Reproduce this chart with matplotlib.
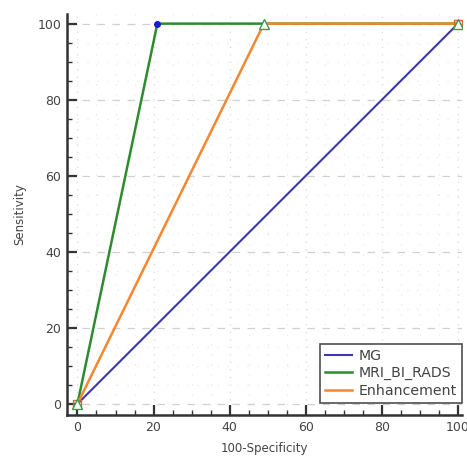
import matplotlib
matplotlib.use("Agg")
import matplotlib.pyplot as plt
from matplotlib.ticker import MultipleLocator

mg_x = [0, 100]
mg_y = [0, 100]
mri_x = [0, 21, 100]
mri_y = [0, 100, 100]
enh_x = [0, 49, 100]
enh_y = [0, 100, 100]
series_names = ["MG", "MRI_BI_RADS", "Enhancement"]

fig = plt.figure(figsize=(4.67, 4.58), dpi=100)
ax = fig.add_axes([0.143, 0.094, 0.846, 0.876])

c_mg = "#3a37b0"
c_mri = "#2e8b2e"
c_enh = "#f4872f"

ax.plot(mg_x, mg_y, color=c_mg, lw=1.5, label=series_names[0], zorder=3)
ax.plot(mri_x, mri_y, color=c_mri, lw=1.8, label=series_names[1], zorder=4)
ax.plot(enh_x, enh_y, color=c_enh, lw=1.8, label=series_names[2], zorder=5)

# markers
ax.plot([mri_x[1]], [mri_y[1]], 'o', color="#1a1ad0", ms=4, zorder=6)
ax.plot([enh_x[1]], [enh_y[1]], '^', mfc="white", mec="#3a9a4a", ms=7, mew=1, zorder=6)
ax.plot([0, 100], [0, 100], 's', mfc="none", mec="#e06030", ms=6, mew=1, zorder=6)
ax.plot([0, 100], [0, 100], '^', mfc="white", mec="#3a9a4a", ms=7, mew=1, zorder=7)

ax.set_xlim(-2.8, 101)
ax.set_ylim(-2.9, 102.6)
ax.xaxis.set_major_locator(MultipleLocator(20))
ax.yaxis.set_major_locator(MultipleLocator(20))
ax.xaxis.set_minor_locator(MultipleLocator(5))
ax.yaxis.set_minor_locator(MultipleLocator(5))

for s in ["top", "right"]:
    ax.spines[s].set_visible(False)
for s in ["left", "bottom"]:
    ax.spines[s].set_linewidth(1.8)
    ax.spines[s].set_color("#333333")

ax.tick_params(which="major", direction="in", length=7, width=1.6, color="#333333",
               labelsize=9, labelcolor="#444444", pad=4)
ax.tick_params(which="minor", direction="in", length=3.5, width=1.0, color="#333333")

ax.grid(which="major", axis="y", linestyle=(0, (6, 6)), color="#d0d0d0", lw=0.9)
ax.grid(which="major", axis="x", linestyle=(0, (1, 5)), color="#d8d8d8", lw=0.9)
ax.grid(which="minor", linestyle=(0, (1, 8)), color="#e4e4e4", lw=0.8)
ax.set_axisbelow(True)

ax.set_xlabel("100-Specificity", fontsize=8.5, color="#444444", labelpad=6)
ax.set_ylabel("Sensitivity", fontsize=8.5, color="#444444", labelpad=8)

leg = ax.legend(loc="lower right", fontsize=10.2, frameon=True, fancybox=False,
                edgecolor="#222222", borderpad=0.35, handlelength=1.9,
                handletextpad=0.5, borderaxespad=0,
                labelspacing=0.25, bbox_to_anchor=(1.0, 0.03))
leg.get_frame().set_linewidth(1.2)
for t in leg.get_texts():
    t.set_color("#444444")

fig.savefig("out.png", dpi=100)
